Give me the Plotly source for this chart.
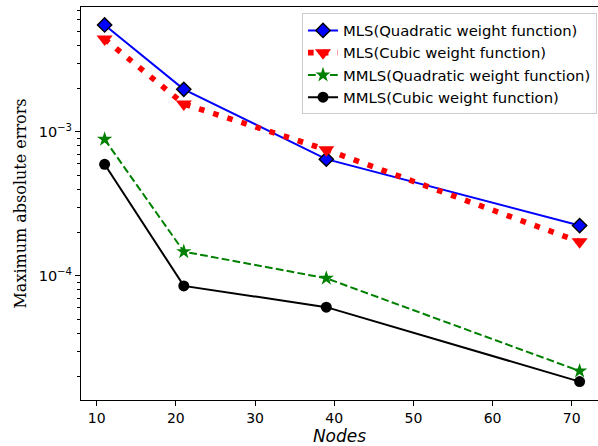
import plotly.graph_objects as go

# Node counts and maximum absolute errors for each approximation scheme
nodes = [11, 21, 39, 71]
mls_quadratic = [5.51e-3, 1.97e-3, 6.45e-4, 2.23e-4]
mls_cubic = [4.40e-3, 1.56e-3, 7.50e-4, 1.72e-4]
mmls_quadratic = [8.85e-4, 1.47e-4, 9.60e-5, 2.18e-5]
mmls_cubic = [5.94e-4, 8.50e-5, 6.05e-5, 1.84e-5]

series_names = [
    "MLS(Quadratic weight function)",
    "MLS(Cubic weight function)",
    "MMLS(Quadratic weight function)",
    "MMLS(Cubic weight function)",
]

x_ticks = [10, 20, 30, 40, 50, 60, 70]
y_major = [1e-4, 1e-3]
y_major_text = ["10<sup>\u22124</sup>", "10<sup>\u22123</sup>"]
y_minor = [m * 10.0 ** e for e in (-5, -4, -3) for m in range(2, 10)]

fig = go.Figure()

fig.add_trace(go.Scatter(
    x=nodes, y=mls_quadratic, name=series_names[0], mode="lines+markers",
    line=dict(color="blue", width=2),
    marker=dict(symbol="diamond", size=11, color="blue",
                line=dict(color="black", width=1.4)),
))
fig.add_trace(go.Scatter(
    x=nodes, y=mls_cubic, name=series_names[1], mode="lines+markers",
    line=dict(color="red", width=5.6, dash="5.6px,9.2px"),
    marker=dict(symbol="triangle-down", size=14, color="red",
                line=dict(color="red", width=0)),
))
fig.add_trace(go.Scatter(
    x=nodes, y=mmls_quadratic, name=series_names[2], mode="lines+markers",
    line=dict(color="green", width=2, dash="7.7px,3.3px"),
    marker=dict(symbol="star", size=11.5, color="green",
                line=dict(color="green", width=0)),
))
fig.add_trace(go.Scatter(
    x=nodes, y=mmls_cubic, name=series_names[3], mode="lines+markers",
    line=dict(color="black", width=2),
    marker=dict(symbol="circle", size=11, color="black"),
))

fig.update_layout(
    width=598, height=446,
    margin=dict(l=81, r=0, t=7, b=46),
    plot_bgcolor="white", paper_bgcolor="white",
    font=dict(family="DejaVu Sans", size=14, color="black"),
    showlegend=True,
    legend=dict(
        x=0.4275, y=0.984, xanchor="left", yanchor="top",
        bgcolor="rgba(255,255,255,0.8)", bordercolor="#cccccc", borderwidth=1,
        font=dict(family="DejaVu Sans", size=14.8, color="black"),
        tracegroupgap=0, itemwidth=30,
    ),
)

fig.update_xaxes(
    range=[8.017, 73.32],
    tickmode="array", tickvals=x_ticks,
    ticks="outside", ticklen=5, tickwidth=1.1, tickcolor="black",
    showline=True, linecolor="black", linewidth=1.1, mirror=True,
    showgrid=False, zeroline=False,
    tickfont=dict(family="DejaVu Sans", size=14),
    title=dict(text="<i>Nodes</i>", font=dict(family="DejaVu Sans", size=17),
               standoff=4),
)

fig.update_yaxes(
    type="log", range=[-4.863, -2.134],
    tickmode="array", tickvals=y_major, ticktext=y_major_text,
    ticks="outside", ticklen=5, tickwidth=1.1, tickcolor="black",
    minor=dict(tickmode="array", tickvals=y_minor, ticks="outside",
               ticklen=3, tickwidth=0.8, tickcolor="black", showgrid=False),
    showline=True, linecolor="black", linewidth=1.1, mirror=False,
    showgrid=False, zeroline=False,
    tickfont=dict(family="DejaVu Sans", size=14.5),
    title=dict(text="Maximum absolute errors",
               font=dict(family="DejaVu Serif", size=16), standoff=8),
)

fig.write_html("out.html")
